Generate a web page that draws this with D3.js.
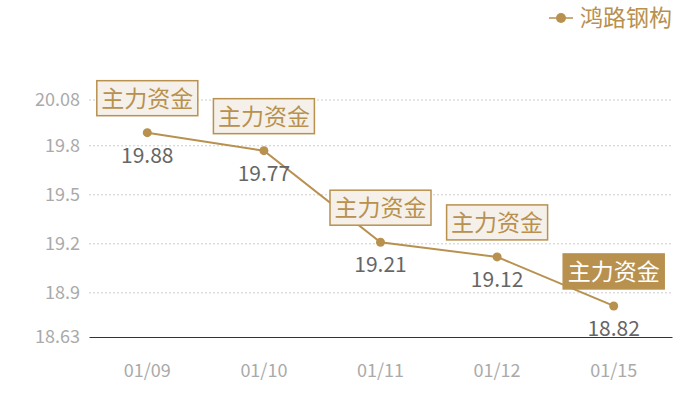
<!DOCTYPE html>
<html>
<head>
<meta charset="utf-8">
<script src="https://cdn.jsdelivr.net/npm/d3@7"></script>
<style>
  body { margin: 0; background: #fff; }
  text { font-family: "Noto Sans CJK SC", "Noto Sans", sans-serif; }
</style>
</head>
<body>
<script>
var dates = ["01/09", "01/10", "01/11", "01/12", "01/15"];
var prices = [19.88, 19.77, 19.21, 19.12, 18.82];
var yTicks = [18.63, 18.9, 19.2, 19.5, 19.8, 20.08];
var markLabel = "主力资金";
var seriesName = "鸿路钢构";

var width = 700;
var height = 400;
var margin = {top: 100, right: 28, bottom: 63, left: 89};
var gold = "#b8914f";

var svg = d3.select("body")
    .append("svg")
    .attr("width", width)
    .attr("height", height);

var g = svg.append("g")
    .attr("transform", "translate(" + margin.left + ", " + margin.top + ")");

var w = width - margin.left - margin.right;
var h = height - margin.top - margin.bottom;

var x = d3.scaleBand()
    .domain(dates)
    .range([0, w]);

var y = d3.scaleLinear()
    .domain([18.63, 20.08])
    .range([h, 0]);

// grid lines
g.selectAll(".grid")
    .data(yTicks.slice(1))
    .enter()
    .append("line")
    .attr("x1", 0)
    .attr("x2", w)
    .attr("y1", (d) => y(d))
    .attr("y2", (d) => y(d))
    .attr("stroke", "#ccc")
    .attr("stroke-dasharray", "2,2");

var leftAxis = d3.axisLeft(y)
    .tickValues(yTicks)
    .tickFormat((d) => "" + d)
    .tickSize(0)
    .tickPadding(9);
var ly = g.append("g").attr("class", "left axis").call(leftAxis);
ly.select(".domain").remove();
ly.selectAll("text")
    .attr("font-size", "18px")
    .attr("fill", "#aaa")
    .style("font-family", "'Noto Sans CJK SC', sans-serif");

var bottomAxis = d3.axisBottom(x).tickSize(0).tickPadding(27);
var bx = g.append("g")
    .attr("class", "bottom axis")
    .attr("transform", "translate(0, " + h + ")")
    .call(bottomAxis);
bx.select(".domain").attr("stroke", "#333");
bx.selectAll("text")
    .attr("font-size", "18px")
    .attr("fill", "#aaa")
    .style("font-family", "'Noto Sans CJK SC', sans-serif");

var cx = (d, i) => x(dates[i]) + x.bandwidth() / 2;

var line = d3.line()
    .x((d, i) => cx(d, i))
    .y((d) => y(d));

g.append("path")
    .datum(prices)
    .attr("d", line)
    .attr("fill", "none")
    .attr("stroke", gold)
    .attr("stroke-width", 2);

g.selectAll(".dot")
    .data(prices)
    .enter()
    .append("circle")
    .attr("cx", cx)
    .attr("cy", (d) => y(d))
    .attr("r", 4.5)
    .attr("fill", gold);

g.selectAll(".val")
    .data(prices)
    .enter()
    .append("text")
    .attr("x", cx)
    .attr("y", (d) => y(d) + 30)
    .attr("text-anchor", "middle")
    .attr("font-size", "21px")
    .attr("fill", "#666")
    .text((d) => d.toFixed(2));

// 主力资金 boxes
var marks = g.selectAll(".mark")
    .data(prices)
    .enter()
    .append("g")
    .attr("transform", (d, i) => "translate(" + cx(d, i) + "," + (y(d) - 17) + ")");

marks.append("rect")
    .attr("x", -50.5)
    .attr("y", -35)
    .attr("width", 101)
    .attr("height", 35)
    .attr("fill", (d, i) => i == prices.length - 1 ? gold : "#f5f0e9")
    .attr("stroke", gold)
    .attr("stroke-width", 1.5);

marks.append("text")
    .attr("x", 0)
    .attr("y", -9)
    .attr("text-anchor", "middle")
    .attr("font-size", "23px")
    .attr("fill", (d, i) => i == prices.length - 1 ? "#fff" : gold)
    .text(markLabel);

// legend
var lg = svg.append("g").attr("transform", "translate(549, 18)");
lg.append("line")
    .attr("x1", 0).attr("x2", 24)
    .attr("stroke", gold).attr("stroke-width", 1.5);
lg.append("circle")
    .attr("cx", 12).attr("r", 5)
    .attr("fill", gold);
lg.append("text")
    .attr("x", 31)
    .attr("y", 8)
    .attr("font-size", "23px")
    .attr("fill", gold)
    .text(seriesName);
</script>
</body>
</html>
